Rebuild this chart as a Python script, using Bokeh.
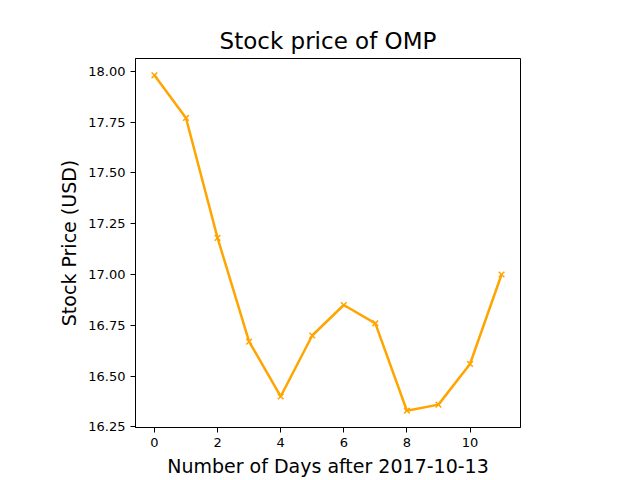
from bokeh.plotting import figure
from bokeh.embed import file_html
from bokeh.resources import INLINE
from bokeh.models import FixedTicker, NumeralTickFormatter, Range1d

days = list(range(12))
prices = [17.98, 17.77, 17.18, 16.67, 16.40, 16.70, 16.85, 16.76, 16.33, 16.36, 16.56, 17.00]

p = figure(width=640, height=480, output_backend="svg", toolbar_location=None,
           title="Stock price of OMP",
           x_range=Range1d(-0.6, 11.6), y_range=Range1d(16.2475, 18.0625),
           min_border_left=135, min_border_right=120, min_border_top=58, min_border_bottom=53)
p.title.align = "center"
p.title.text_font = "DejaVu Sans"
p.title.text_font_size = "23px"
p.title.text_font_style = "normal"
p.title.text_color = "black"
p.line(days, prices, color="orange", line_width=2.5)
p.scatter(days, prices, marker="x", color="orange", size=8, line_width=1.5)
p.grid.visible = False
p.xaxis.ticker = FixedTicker(ticks=[0, 2, 4, 6, 8, 10])
p.yaxis.ticker = FixedTicker(ticks=[16.25, 16.5, 16.75, 17.0, 17.25, 17.5, 17.75, 18.0])
p.yaxis.formatter = NumeralTickFormatter(format="0.00")
p.xaxis.axis_label = "Number of Days after 2017-10-13"
p.yaxis.axis_label = "Stock Price (USD)"
for ax in (p.xaxis, p.yaxis):
    ax.axis_label_text_font = "DejaVu Sans"
    ax.axis_label_text_font_style = "normal"
    ax.axis_label_text_font_size = "19px"
    ax.axis_label_text_color = "black"
    ax.major_label_text_font = "DejaVu Sans"
    ax.major_label_text_font_size = "13px"
    ax.major_label_text_color = "black"
    ax.minor_tick_line_color = None
    ax.major_tick_out = 5
    ax.major_tick_in = 0
    ax.axis_line_color = "black"
p.outline_line_color = "black"
p.outline_line_alpha = 1
open("out.html", "w").write(file_html(p, INLINE))
